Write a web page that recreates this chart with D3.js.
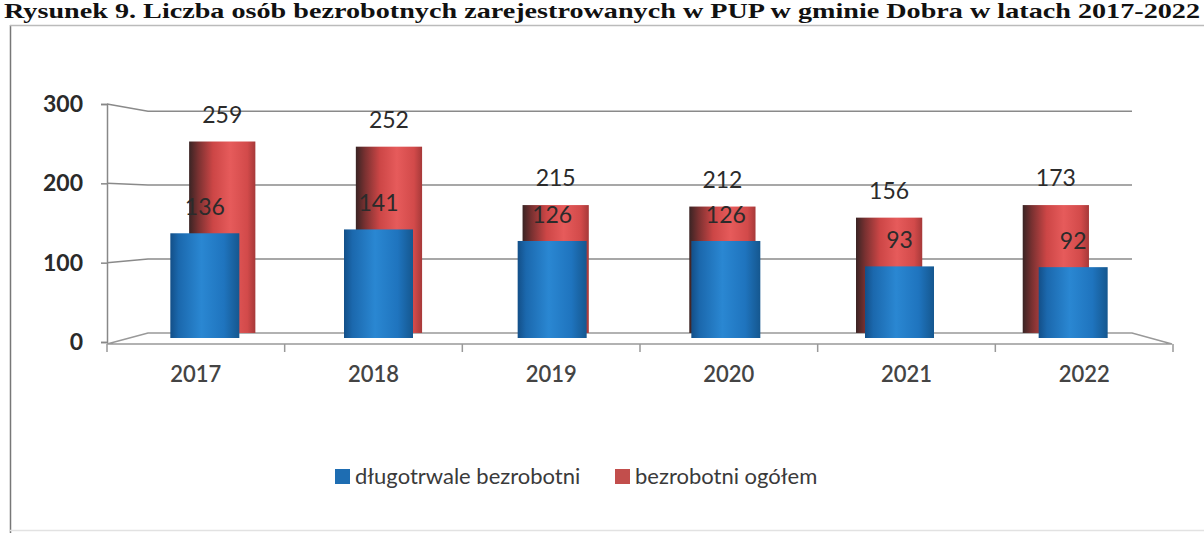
<!DOCTYPE html>
<meta charset="utf-8">
<style>
body { margin: 0; background: #fff; }
svg { display: block; }
.tick text { font-family: Lato, "Open Sans", sans-serif; }
</style>
<body>
<svg width="1204" height="533"></svg>
<script src="https://d3js.org/d3.v7.min.js"></script>
<script>

var years = ["2017", "2018", "2019", "2020", "2021", "2022"];
var longTerm = [136, 141, 126, 126, 93, 92];          // długotrwale bezrobotni
var total = [259, 252, 173, 171, 156, 173];           // bezrobotni ogółem (bar heights as drawn)
var totalLabels = ["259", "252", "215", "212", "156", "173"];
var yTicks = [0, 100, 200, 300];
var title = "Rysunek 9. Liczba osób bezrobotnych zarejestrowanych w PUP w gminie Dobra w latach 2017-2022";

var svg = d3.select("svg");

// fake 3d: back row is the front row shrunk towards a vanishing point
var vx = 640, vy = 212, depth = 0.96;
function px(x) { return vx + (x - vx) * depth; }
function py(y) { return vy + (y - vy) * depth; }

var x = d3.scaleBand().domain(years).range([107, 1173]);       // floor / labels
var xBar = d3.scaleBand().domain(years).range([118, 1160]);    // front row of bars
var yFront = d3.scaleLinear().domain([0, 300]).range([338, 107]);
var yAxisScale = d3.scaleLinear().domain([0, 300]).range([342, 104]);
var barW = 69;

// title
svg.append("text")
    .attr("x", 4)
    .attr("y", 18)
    .attr("textLength", 1196)
    .attr("lengthAdjust", "spacingAndGlyphs")
    .style("font-family", "'Liberation Serif', serif")
    .style("font-weight", "bold")
    .style("font-size", "21px")
    .style("fill", "#111")
    .text(title);

// frame
svg.append("line").attr("x1", 10.5).attr("x2", 10.5).attr("y1", 25).attr("y2", 533)
    .style("stroke", "#777").style("stroke-width", 1.5);
svg.append("line").attr("x1", 10).attr("x2", 1204).attr("y1", 25.5).attr("y2", 25.5)
    .style("stroke", "#bbb").style("stroke-width", 1.5);
svg.append("line").attr("x1", 10).attr("x2", 1204).attr("y1", 530.5).attr("y2", 530.5)
    .style("stroke", "#e2e2e2").style("stroke-width", 1.5);

var defs = svg.append("defs");
function grad(id, stops) {
  var g = defs.append("linearGradient").attr("id", id)
      .attr("x1", 0).attr("x2", 1).attr("y1", 0).attr("y2", 0);
  stops.forEach(function(s) {
    g.append("stop").attr("offset", s[0]).attr("stop-color", s[1]);
  });
}
grad("blueGrad", [[0, "#134f88"], [0.12, "#1b68ad"], [0.45, "#2a87d2"], [0.78, "#1f74be"], [1, "#15578f"]]);
grad("redGrad", [[0, "#3a2424"], [0.14, "#7a3131"], [0.36, "#cc4646"], [0.62, "#e65b5b"], [0.88, "#d24a4a"], [1, "#a63939"]]);

var wallL = 148, wallR = 1132;

// floor
var floorBack = py(yFront(0));
svg.append("path")
    .attr("d", "M107," + 344 + "L" + wallL + "," + floorBack + "L" + wallR + "," + floorBack +
               "L1172,344Z")
    .style("fill", "#fff").style("stroke", "#999").style("stroke-width", 1.5);

// gridlines on the back wall
var grid = svg.append("g");
yTicks.filter(function(v) { return v > 0; }).forEach(function(v) {
  grid.append("path")
      .attr("d", "M107," + yAxisScale(v) + "L" + wallL + "," + py(yFront(v)) + "L" + wallR + "," + py(yFront(v)))
      .style("fill", "none").style("stroke", "#8a8a8a").style("stroke-width", 1.5);
});

// y axis
var yAxis = svg.append("g")
    .attr("transform", "translate(107,0)")
    .call(d3.axisLeft(yAxisScale).tickValues(yTicks).tickSize(6).tickPadding(18));
yAxis.select(".domain").style("stroke", "#888").style("stroke-width", 1.5);
yAxis.selectAll(".tick line").style("stroke", "#888").style("stroke-width", 1.5);
yAxis.selectAll(".tick text")
    .style("font-size", "23px").style("font-weight", "bold").style("fill", "#2a2a2a");

// x axis: labels, and ticks at the category edges
var xAxis = svg.append("g")
    .attr("transform", "translate(0,344)")
    .call(d3.axisBottom(x).tickSize(0).tickPadding(22));
xAxis.select(".domain").remove();
xAxis.selectAll(".tick text")
    .style("font-size", "22px").style("font-weight", "600").style("fill", "#444");
svg.append("g").selectAll("line")
    .data(years.concat(["end"]))
    .enter().append("line")
      .attr("x1", function(d, i) { return x.range()[0] + i * x.step(); })
      .attr("x2", function(d, i) { return x.range()[0] + i * x.step(); })
      .attr("y1", 344).attr("y2", 352)
      .style("stroke", "#999").style("stroke-width", 1.5);

function cx(d) { return xBar(d) + xBar.bandwidth() / 2; }

// back row: bezrobotni ogółem
svg.append("g").selectAll("rect")
    .data(years)
    .enter().append("rect")
      .attr("x", function(d) { return px(cx(d) - barW / 2); })
      .attr("y", function(d, i) { return py(yFront(total[i])); })
      .attr("width", barW * depth)
      .attr("height", function(d, i) { return py(yFront(0)) - py(yFront(total[i])); })
      .style("fill", "url(#redGrad)");

// front row: długotrwale bezrobotni
svg.append("g").selectAll("rect")
    .data(years)
    .enter().append("rect")
      .attr("x", function(d) { return cx(d) - barW / 2; })
      .attr("y", function(d, i) { return yFront(longTerm[i]); })
      .attr("width", barW)
      .attr("height", function(d, i) { return yFront(0) - yFront(longTerm[i]); })
      .style("fill", "url(#blueGrad)");

// value labels
var labelStyle = function(sel) {
  sel.attr("text-anchor", "middle")
     .style("font-family", "Lato, 'Open Sans', sans-serif")
     .style("font-size", "23px")
     .style("fill", "#2b2b2b");
};
svg.append("g").selectAll("text")
    .data(years)
    .enter().append("text")
      .attr("x", function(d) { return px(cx(d)); })
      .attr("y", function(d, i) { return py(yFront(total[i])) - 19; })
      .text(function(d, i) { return totalLabels[i]; })
      .call(labelStyle);
svg.append("g").selectAll("text")
    .data(years)
    .enter().append("text")
      .attr("x", function(d) { return cx(d); })
      .attr("y", function(d, i) { return yFront(longTerm[i]) - 18; })
      .text(function(d, i) { return longTerm[i]; })
      .call(labelStyle);

// legend
var legend = [
  {name: "długotrwale bezrobotni", color: "#1e6db2", x: 335},
  {name: "bezrobotni ogółem", color: "#c24e4c", x: 615}
];
var lg = svg.append("g").selectAll("g")
    .data(legend)
    .enter().append("g")
      .attr("transform", function(d) { return "translate(" + d.x + ",469)"; });
lg.append("rect").attr("width", 15).attr("height", 15).style("fill", function(d) { return d.color; });
lg.append("text")
    .attr("x", 20).attr("y", 15)
    .style("font-family", "Lato, 'Open Sans', sans-serif")
    .style("font-size", "22px")
    .style("fill", "#3a3a3a")
    .text(function(d) { return d.name; });

</script>
</body>
